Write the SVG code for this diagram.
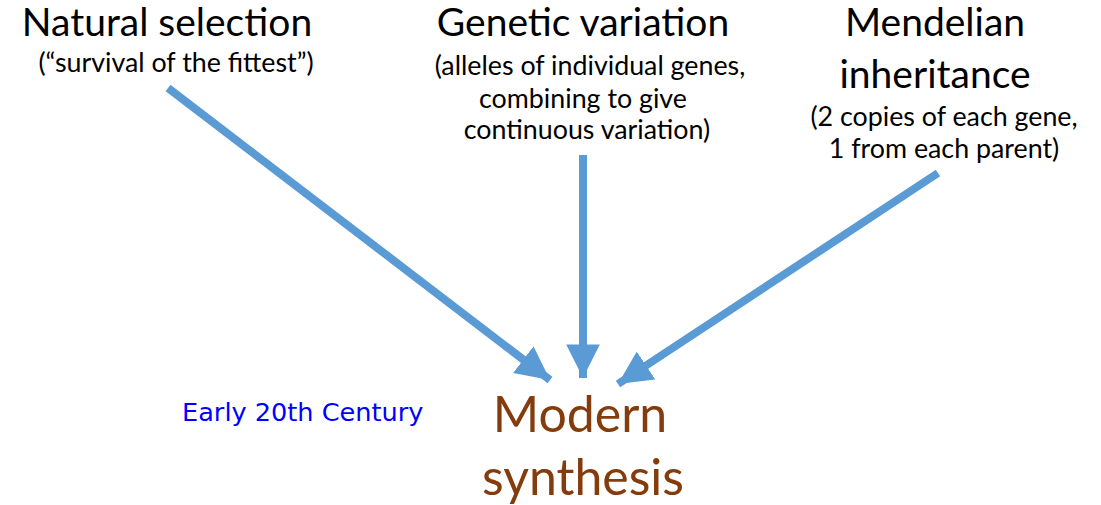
<svg xmlns="http://www.w3.org/2000/svg" width="1101" height="505" viewBox="0 0 1101 505">
<defs>
<style>
.t{font-family:Lato,"Open Sans",sans-serif;fill:#000;text-anchor:middle}
.h{font-size:39px}
.s{font-size:26.8px}
.c{stroke:#5b9bd5;stroke-width:8;fill:none}
.m{font-family:Lato,sans-serif;fill:#843c0c;font-size:50px;text-anchor:middle}
.e{font-family:"DejaVu Sans",sans-serif;fill:#0000ff;font-size:25.6px}
</style>
<marker id="ah" viewBox="0 0 10 10" refX="10" refY="5" markerWidth="4.2" markerHeight="4.2" markerUnits="strokeWidth" orient="auto"><path d="M0,0 L10,5 L0,10 z" fill="#5b9bd5"/></marker>
</defs>
<rect width="1101" height="505" fill="#fff"/>
<g id="connectors">
<line class="c" x1="168" y1="88" x2="550" y2="380" marker-end="url(#ah)"/>
<line class="c" x1="583" y1="155" x2="583" y2="378" marker-end="url(#ah)"/>
<line class="c" x1="938" y1="173" x2="618" y2="384" marker-end="url(#ah)"/>
</g>
<g id="natural-selection">
<text class="t h" x="167" y="36">Natural selection</text>
<text class="t s" x="176" y="72">(“survival of the fittest”)</text>
</g>
<g id="genetic-variation">
<text class="t h" x="583" y="36">Genetic variation</text>
<text class="t s" x="590" y="75">(alleles of individual genes,</text>
<text class="t s" x="583" y="108">combining to give</text>
<text class="t s" x="587" y="139">continuous variation)</text>
</g>
<g id="mendelian-inheritance">
<text class="t h" x="935" y="36">Mendelian</text>
<text class="t h" x="935" y="88">inheritance</text>
<text class="t s" x="944" y="126">(2 copies of each gene,</text>
<text class="t s" x="944" y="158">1 from each parent)</text>
</g>
<g id="early-20th-century">
<text class="e" x="182" y="421">Early 20th Century</text>
</g>
<g id="modern-synthesis">
<text class="m" x="580" y="432">Modern</text>
<text class="m" x="583" y="495">synthesis</text>
</g>
</svg>
